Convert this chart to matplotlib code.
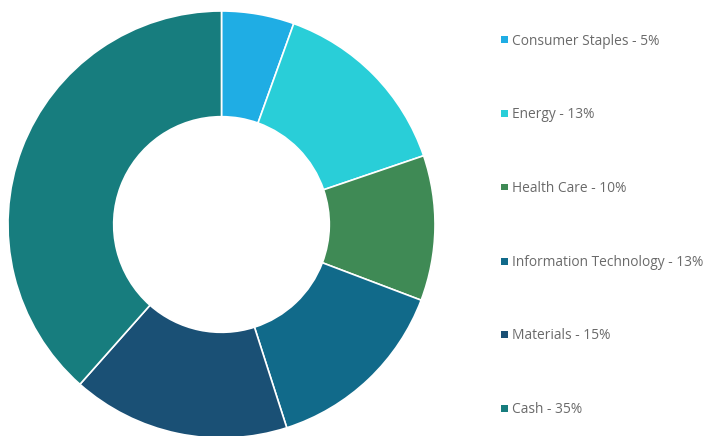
import matplotlib
matplotlib.use("Agg")
import matplotlib.pyplot as plt
from matplotlib.patches import Rectangle

categories = ["Consumer Staples", "Energy", "Health Care", "Information Technology", "Materials", "Cash"]
values = [5, 13, 10, 13, 15, 35]
colors = ["#1FADE4", "#29CED8", "#3F8A55", "#116A8A", "#1A5075", "#177D7E"]

W, H = 707, 436
fig = plt.figure(figsize=(W / 100, H / 100), dpi=100)

cx, cy, r = 221.5, 224.5, 213.5
ax = fig.add_axes([(cx - r) / W, (H - cy - r) / H, 2 * r / W, 2 * r / H])
ax.pie(values, colors=colors, startangle=90, counterclock=False, radius=1,
       wedgeprops=dict(width=0.495, edgecolor="white", linewidth=1.2))
ax.set_xlim(-1, 1)
ax.set_ylim(-1, 1)
ax.set_aspect("equal")
ax.axis("off")

row_y = [40, 113, 187, 261, 334, 408]
for lab, v, c, y in zip(categories, values, colors, row_y):
    fig.patches.append(Rectangle(((501) / W, (H - y - 3.5) / H), 7 / W, 7 / H,
                                 transform=fig.transFigure, facecolor=c, edgecolor="none"))
    fig.text(512 / W, (H - y - 1.5) / H, f"{lab} - {v}%", fontsize=9.9, color="#6a6a6a",
             family="Open Sans", va="center", ha="left")

fig.savefig("out.png", dpi=100)
